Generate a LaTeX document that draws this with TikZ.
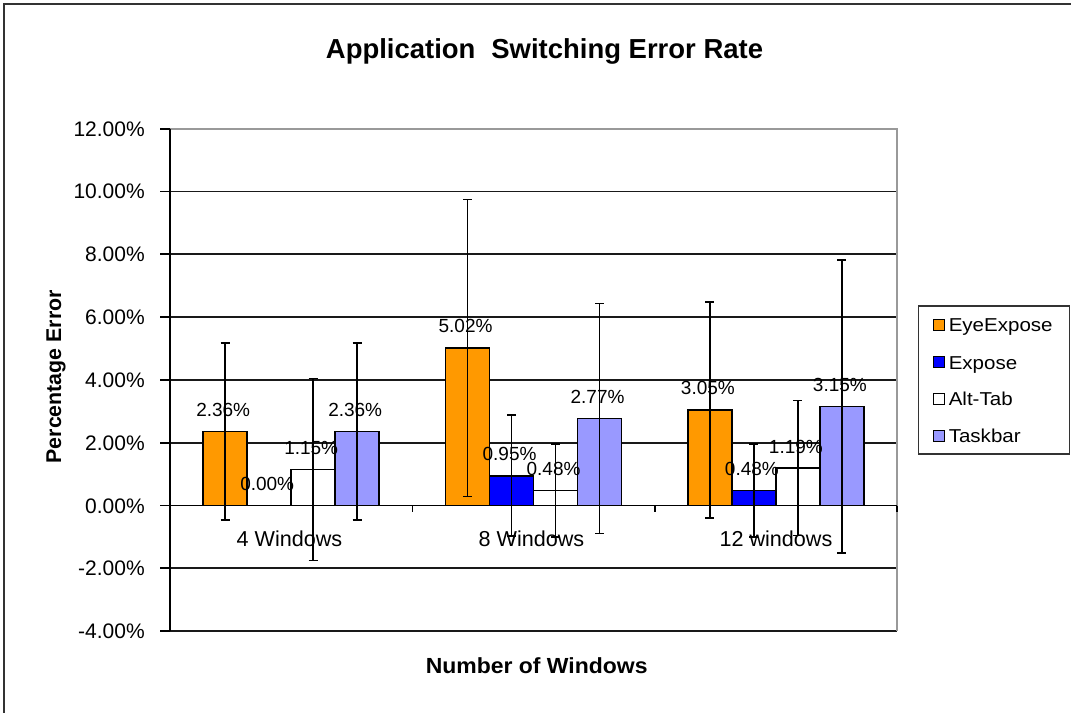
\documentclass[tikz,border=0pt]{standalone}
\usepackage{fontspec}
\setmainfont{Liberation Sans}
\newfontfamily\legfont[FakeStretch=1.1]{Liberation Sans}
\newfontfamily\xtitlefont[FakeStretch=1.05]{Liberation Sans}
\definecolor{eyeorange}{HTML}{FF9900}
\definecolor{exposeblue}{HTML}{0000FF}
\definecolor{taskpurple}{HTML}{9999FF}
\tikzset{
  frameline/.style={line width=1.5pt, black!80},
  gridline/.style={line width=1.25pt, black!90},
  plotborder/.style={line width=1.25pt, black!40},
  axisline/.style={line width=1.25pt, black},
  barbox/.style={draw=black, line width=1.25pt},
  errbar/.style={line width=1.2pt, black},
  titletext/.style={inner sep=0pt, anchor=base, font=\fontsize{20.6}{24}\selectfont\bfseries},
  ticklabel/.style={inner sep=0pt, anchor=base east, font=\fontsize{15.75}{18}\selectfont},
  datalabel/.style={inner sep=0pt, anchor=base, font=\fontsize{14.25}{16}\selectfont},
  catlabel/.style={inner sep=0pt, anchor=base, font=\fontsize{16.2}{18}\selectfont},
  axistitle/.style={inner sep=0pt, anchor=base, font=\fontsize{16}{18}\selectfont\bfseries},
  legendtext/.style={inner sep=0pt, anchor=base west, font=\legfont\fontsize{14}{16}\selectfont},
  legendbox/.style={draw=black!80, line width=1.2pt},
  legendkey/.style={draw=black, line width=1pt, minimum size=8.25pt, inner sep=0pt},
}
\begin{document}
\begin{tikzpicture}[x=0.75pt,y=-0.75pt]
\useasboundingbox (0,0) rectangle (1071,713);
\fill[white] (0,0) rectangle (1071,713);
\draw[frameline] (3.5,713) -- (3.5,4) -- (1071,4);
\node[titletext] (title) at (544.5,58.3) {Application\hspace{0.3em} Switching Error Rate};

% gridlines
\foreach \v in {10,8,6,4,2,-2,-4} {
  \draw[gridline] (170,{505.5-31.4*\v}) -- (897,{505.5-31.4*\v});
}
\draw[plotborder] (170,{505.5-31.4*12}) -- (897,{505.5-31.4*12}) -- (897,{505.5+31.4*4});

% bars
\foreach \g/\s/\val/\col in {0/0/2.36/eyeorange, 0/2/1.15/white, 0/3/2.36/taskpurple,
  1/0/5.02/eyeorange, 1/1/0.95/exposeblue, 1/2/0.48/white, 1/3/2.77/taskpurple,
  2/0/3.05/eyeorange, 2/1/0.48/exposeblue, 2/2/1.19/white, 2/3/3.15/taskpurple} {
  \pgfmathsetmacro\xl{170+\g*242.333+33.2+\s*44}
  \pgfmathsetmacro\xr{\xl+44}
  \pgfmathsetmacro\yt{505.5-31.4*\val}
  \draw[barbox, fill=\col] (\xl,505.5) rectangle (\xr,\yt);
}

% axes
\draw[axisline] (170,505.5) -- (897,505.5);
\foreach \x in {170,412.333,654.667,897} {
  \draw[axisline] (\x,505.5) -- (\x,512);
}
\draw[axisline] (170,{505.5-31.4*12}) -- (170,{505.5+31.4*4});
\foreach \v/\t [count=\i] in {12/12.00\%,10/10.00\%,8/8.00\%,6/6.00\%,4/4.00\%,2/2.00\%,0/0.00\%,-2/-2.00\%,-4/-4.00\%} {
  \draw[axisline] (160,{505.5-31.4*\v}) -- (170,{505.5-31.4*\v});
  \node[ticklabel] (ytick\i) at (145,{505.5-31.4*\v+7.5}) {\t};
}

% error bars
\foreach \g/\s/\val/\err in {0/0/2.36/2.82, 0/2/1.15/2.90, 0/3/2.36/2.82,
  1/0/5.02/4.73, 1/1/0.95/1.93, 1/2/0.48/1.48, 1/3/2.77/3.66,
  2/0/3.05/3.44, 2/1/0.48/1.48, 2/2/1.19/2.15, 2/3/3.15/4.67} {
  \pgfmathsetmacro\xc{170+\g*242.333+33.2+\s*44+22}
  \pgfmathsetmacro\yhi{505.5-31.4*(\val+\err)}
  \pgfmathsetmacro\ylo{505.5-31.4*(\val-\err)}
  \draw[errbar] (\xc,\yhi) -- (\xc,\ylo)
    ({\xc-4.5},\yhi) -- ({\xc+4.5},\yhi)
    ({\xc-4.5},\ylo) -- ({\xc+4.5},\ylo);
}

% data labels
\foreach \g/\s/\val in {0/0/2.36, 0/1/0.00, 0/2/1.15, 0/3/2.36,
  1/0/5.02, 1/1/0.95, 1/2/0.48, 1/3/2.77,
  2/0/3.05, 2/1/0.48, 2/2/1.19, 2/3/3.15} {
  \pgfmathsetmacro\xc{170+\g*242.333+33.2+\s*44+22}
  \pgfmathsetmacro\yt{505.5-31.4*\val}
  \node[datalabel] (dl\g\s) at ({\xc-2},{\yt-15}) {\val\%};
}

% category labels
\node[catlabel] (cat1) at (289.5,546.7) {4 Windows};
\node[catlabel] (cat2) at (531.5,546.7) {8 Windows};
\node[catlabel] (cat3) at (776,546.7) {12 windows};

% axis titles
\node[axistitle, font=\xtitlefont\fontsize{16.4}{18}\selectfont\bfseries] (xtitle) at (536.7,673.3) {Number of Windows};
\node[axistitle, rotate=90] (ytitle) at (61,376.7) {Percentage Error};

% legend
\draw[legendbox] (918.3,306) rectangle (1069.3,454);
\foreach \y/\col/\t [count=\i] in {325/eyeorange/EyeExpose, 362.3/exposeblue/Expose, 399/white/Alt-Tab, 435.7/taskpurple/Taskbar} {
  \node[legendkey, fill=\col] (key\i) at (939,\y) {};
  \node[legendtext] (leg\i) at (948.5,{\y+6.7}) {\t};
}
\end{tikzpicture}
\end{document}
